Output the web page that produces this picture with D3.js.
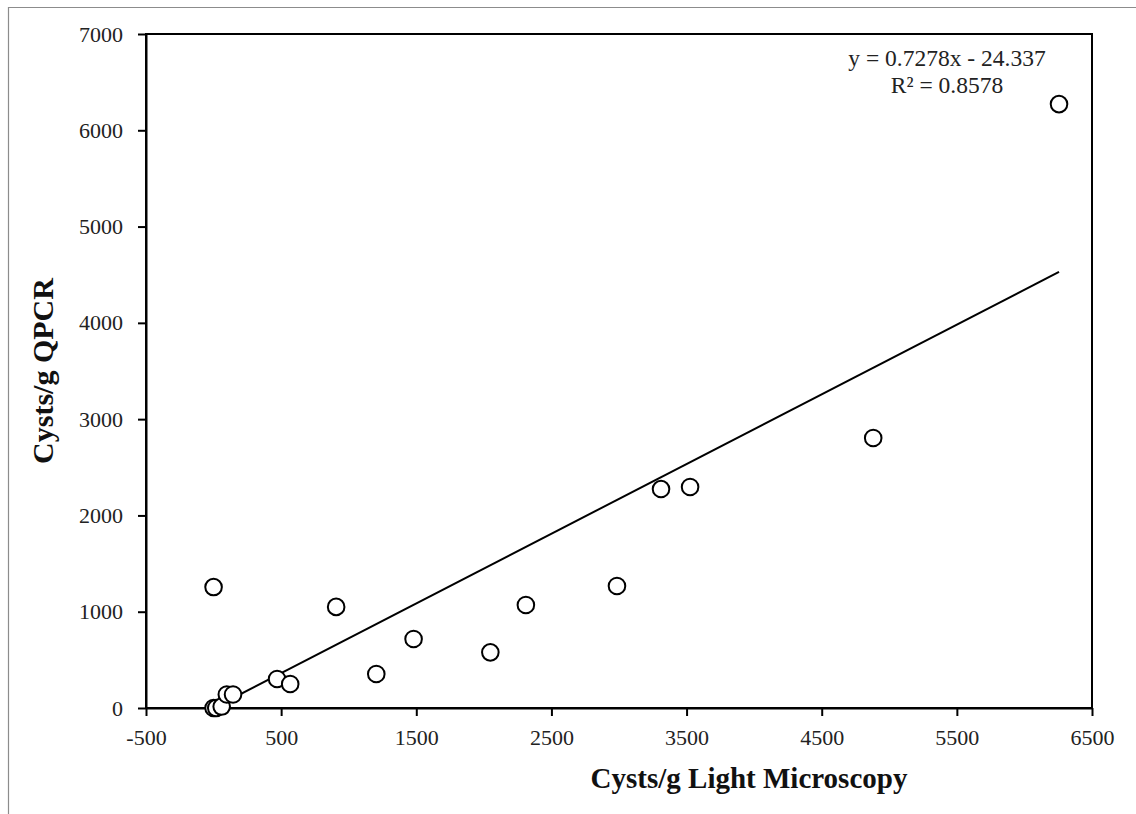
<!DOCTYPE html>
<html>
<head>
<meta charset="utf-8">
<script src="https://cdn.jsdelivr.net/npm/d3@7"></script>
<style>
  html, body { margin: 0; padding: 0; background: #fff; }
  svg { display: block; }
</style>
</head>
<body>
<svg id="chart" width="1136" height="814"></svg>
<script>
// Cyst counts per gram: light microscopy (x) vs QPCR (y)
const microscopy = [0, 20, 60, 98, 144, 470, 567, 907, 0, 1204, 1480, 2048, 2311, 2985, 3311, 3526, 4881, 6256];
const qpcr       = [0, 0, 15, 140, 140, 301, 249, 1050, 1256, 353, 717, 578, 1070, 1267, 2274, 2295, 2804, 6272];

// Linear trend reported on the chart
const slope = 0.7278;
const intercept = -24.337;
const rSquared = 0.8578;

const xTicks = [-500, 500, 1500, 2500, 3500, 4500, 5500, 6500];
const yTicks = [0, 1000, 2000, 3000, 4000, 5000, 6000, 7000];

const xLabel = "Cysts/g Light Microscopy";
const yLabel = "Cysts/g QPCR";

const svg = d3.select("#chart");
const serif = "'Liberation Serif', 'Times New Roman', serif";

const plot = { left: 146, top: 34, right: 1092, bottom: 708 };

const x = d3.scaleLinear().domain([-500, 6500]).range([plot.left, plot.right]);
const y = d3.scaleLinear().domain([0, 7000]).range([plot.bottom, plot.top]);

// outer frame of the figure
svg.append("path")
  .attr("d", "M8.5,814 L8.5,7.5 L1136,7.5")
  .attr("fill", "none")
  .attr("stroke", "#8c8c8c")
  .attr("stroke-width", 1.2);

// plot box
svg.append("rect")
  .attr("x", plot.left).attr("y", plot.top)
  .attr("width", plot.right - plot.left)
  .attr("height", plot.bottom - plot.top)
  .attr("fill", "none")
  .attr("stroke", "#000")
  .attr("stroke-width", 2);

// x axis
const xAxis = svg.append("g")
  .attr("transform", `translate(0,${plot.bottom})`)
  .call(d3.axisBottom(x).tickValues(xTicks).tickFormat(d => String(d)).tickSizeOuter(0).tickSizeInner(8));
xAxis.select(".domain").attr("stroke-width", 2);
xAxis.selectAll(".tick line").attr("stroke-width", 2);
xAxis.selectAll("text")
  .attr("y", 37).attr("dy", 0)
  .attr("font-family", serif).attr("font-size", 22).attr("fill", "#222");

// y axis
const yAxis = svg.append("g")
  .attr("transform", `translate(${plot.left},0)`)
  .call(d3.axisLeft(y).tickValues(yTicks).tickFormat(d => String(d)).tickSizeOuter(0).tickSizeInner(8).tickPadding(15));
yAxis.select(".domain").attr("stroke-width", 2);
yAxis.selectAll(".tick line").attr("stroke-width", 2);
yAxis.selectAll("text")
  .attr("font-family", serif).attr("font-size", 22).attr("fill", "#222");

// trend line across the observed range
const xMin = d3.min(microscopy), xMax = d3.max(microscopy);
svg.append("line")
  .attr("x1", x(xMin)).attr("y1", Math.min(y(slope * xMin + intercept), plot.bottom))
  .attr("x2", x(xMax)).attr("y2", y(slope * xMax + intercept))
  .attr("stroke", "#000")
  .attr("stroke-width", 2);

// points
svg.append("g")
  .selectAll("circle")
  .data(microscopy.map((v, i) => ({ mx: v, q: qpcr[i] })))
  .join("circle")
  .attr("cx", d => x(d.mx))
  .attr("cy", d => y(d.q))
  .attr("r", 8.3)
  .attr("fill", "#fff")
  .attr("stroke", "#000")
  .attr("stroke-width", 2);

// trend equation
const eq = svg.append("text")
  .attr("x", 947).attr("y", 66)
  .attr("text-anchor", "middle")
  .attr("font-family", serif).attr("font-size", 23.5).attr("fill", "#222");
eq.append("tspan").attr("x", 947).attr("dy", 0)
  .text(`y = ${slope}x - ${Math.abs(intercept)}`);
eq.append("tspan").attr("x", 947).attr("dy", 27)
  .text(`R² = ${rSquared}`);

// axis titles
svg.append("text")
  .attr("x", 749).attr("y", 788)
  .attr("text-anchor", "middle")
  .attr("font-family", serif).attr("font-size", 29).attr("font-weight", "bold")
  .attr("fill", "#111")
  .text(xLabel);

svg.append("text")
  .attr("transform", `translate(53,${(plot.top + plot.bottom) / 2}) rotate(-90)`)
  .attr("text-anchor", "middle")
  .attr("font-family", serif).attr("font-size", 30).attr("font-weight", "bold")
  .attr("fill", "#111")
  .text(yLabel);
</script>
</body>
</html>
